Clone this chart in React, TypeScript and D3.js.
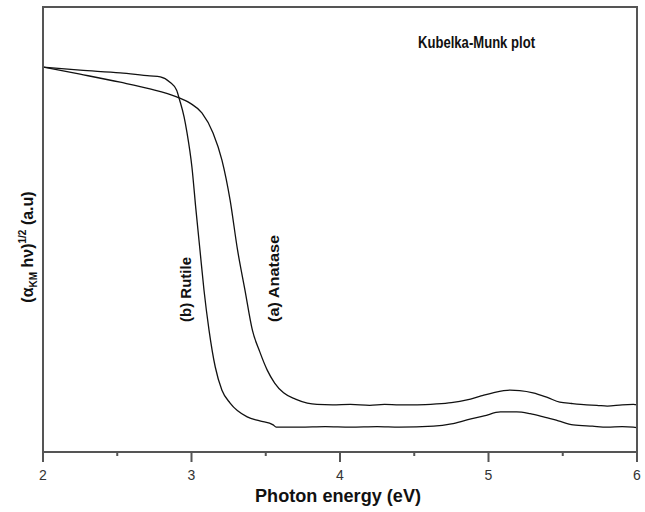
import React, { useEffect, useRef } from "react";
import * as d3 from "d3";

const anataseX = [2.0, 2.25, 2.52, 2.72, 2.9, 2.99, 3.07, 3.145, 3.205, 3.26, 3.31, 3.36, 3.41, 3.46, 3.51, 3.56, 3.62, 3.7, 3.78, 3.845, 3.95, 4.07, 4.2, 4.3, 4.4, 4.52, 4.65, 4.75, 4.855, 4.95, 5.03, 5.145, 5.21, 5.3, 5.4, 5.48, 5.56, 5.66, 5.73, 5.8, 5.9, 5.975, 6.0];
const anataseY = [86.5, 84.9, 83.1, 81.6, 79.8, 78.4, 76.2, 71.7, 65.6, 56.6, 45.4, 36.4, 27.4, 22.5, 18.4, 15.5, 13.3, 11.9, 11.0, 10.7, 10.6, 10.7, 10.5, 10.7, 10.6, 10.6, 10.8, 11.1, 11.7, 12.6, 13.3, 13.9, 13.8, 13.3, 12.2, 11.2, 10.9, 10.6, 10.5, 10.3, 10.6, 10.7, 10.6];

const rutileX = [2.0, 2.25, 2.52, 2.72, 2.79, 2.855, 2.9, 2.92, 2.95, 2.97, 3.003, 3.03, 3.057, 3.084, 3.118, 3.16, 3.205, 3.26, 3.375, 3.46, 3.55, 3.57, 3.73, 3.9, 4.07, 4.25, 4.4, 4.63, 4.75, 4.855, 4.97, 5.08, 5.19, 5.28, 5.37, 5.47, 5.57, 5.7, 5.8, 5.9, 5.975, 6.0];
const rutileY = [86.5, 85.8, 85.2, 84.5, 84.3, 83.1, 81.3, 79.1, 75.3, 71.7, 64.0, 54.4, 45.4, 36.4, 27.4, 19.1, 13.9, 11.0, 7.9, 7.0, 6.1, 5.6, 5.6, 5.7, 5.6, 5.7, 5.6, 5.8, 6.3, 7.2, 8.1, 9.0, 9.0, 8.6, 7.9, 7.0, 6.1, 5.8, 5.6, 5.7, 5.6, 5.5];

const xTicks = [2, 3, 4, 5, 6];
const xMinorTicks = [2.5, 3.5, 4.5, 5.5];

const W = 645, H = 512;
const left = 43, right = 637, top = 7, bottom = 452;

export default function App() {
  const ref = useRef<SVGSVGElement>(null);
  useEffect(() => {
    const svg = d3.select(ref.current);
    svg.selectAll("*").remove();
    const x = d3.scaleLinear().domain([2, 6]).range([left, right]);
    const y = d3.scaleLinear().domain([0, 100]).range([bottom, bottom - 445]);
    const axisColor = "#555";
    const font = "'Liberation Sans Narrow', 'Arial Narrow', 'Liberation Sans', sans-serif";

    const line = d3.line<[number, number]>().x(d => x(d[0])).y(d => y(d[1])).curve(d3.curveMonotoneX);
    const series = [
      anataseX.map((v, i) => [v, anataseY[i]] as [number, number]),
      rutileX.map((v, i) => [v, rutileY[i]] as [number, number]),
    ];
    series.forEach(s => {
      svg.append("path").attr("d", line(s)!).attr("fill", "none").attr("stroke", "#111").attr("stroke-width", 1.3);
    });

    // frame
    svg.append("rect").attr("x", left).attr("y", top).attr("width", right - left).attr("height", bottom - top)
      .attr("fill", "none").attr("stroke", axisColor).attr("stroke-width", 2);

    // x ticks
    const g = svg.append("g");
    xTicks.forEach(t => {
      g.append("line").attr("x1", x(t)).attr("x2", x(t)).attr("y1", bottom).attr("y2", bottom + 10)
        .attr("stroke", axisColor).attr("stroke-width", 2);
      g.append("text").attr("x", x(t)).attr("y", 480).attr("text-anchor", "middle")
        .attr("font-family", font).attr("font-size", 14).attr("fill", "#333").text(String(t));
    });
    xMinorTicks.forEach(t => {
      g.append("line").attr("x1", x(t)).attr("x2", x(t)).attr("y1", bottom).attr("y2", bottom + 4)
        .attr("stroke", axisColor).attr("stroke-width", 2);
    });

    svg.append("text").attr("x", 338).attr("y", 502).attr("text-anchor", "middle")
      .attr("font-family", font).attr("font-weight", "bold").attr("font-size", 18).attr("fill", "#111")
      .attr("textLength", 166).attr("lengthAdjust", "spacingAndGlyphs")
      .text("Photon energy (eV)");

    svg.append("text").attr("x", 418).attr("y", 48)
      .attr("font-family", font).attr("font-weight", "bold").attr("font-size", 16).attr("fill", "#111")
      .attr("textLength", 117).attr("lengthAdjust", "spacingAndGlyphs")
      .text("Kubelka-Munk plot");

    const yl = svg.append("text").attr("transform", "translate(33,247) rotate(-90)").attr("text-anchor", "middle")
      .attr("font-family", font).attr("font-weight", "bold").attr("font-size", 16).attr("fill", "#111");
    yl.append("tspan").text("(α");
    yl.append("tspan").attr("font-size", 10).attr("dy", 4).text("KM");
    yl.append("tspan").attr("dy", -4).text(" hν)");
    yl.append("tspan").attr("font-size", 10).attr("dy", -7).text("1/2");
    yl.append("tspan").attr("dy", 7).text(" (a.u)");

    svg.append("text").attr("transform", "translate(191,322) rotate(-90)")
      .attr("font-family", font).attr("font-weight", "bold").attr("font-size", 15).attr("fill", "#111")
      .text("(b) Rutile");
    svg.append("text").attr("transform", "translate(279,322) rotate(-90)")
      .attr("font-family", font).attr("font-weight", "bold").attr("font-size", 15).attr("fill", "#111")
      .attr("textLength", 87).attr("lengthAdjust", "spacingAndGlyphs")
      .text("(a) Anatase");
  }, []);
  return (
    <svg ref={ref} width={W} height={H} style={{ position: "absolute", left: 0, top: 0, background: "#fff" }} />
  );
}
